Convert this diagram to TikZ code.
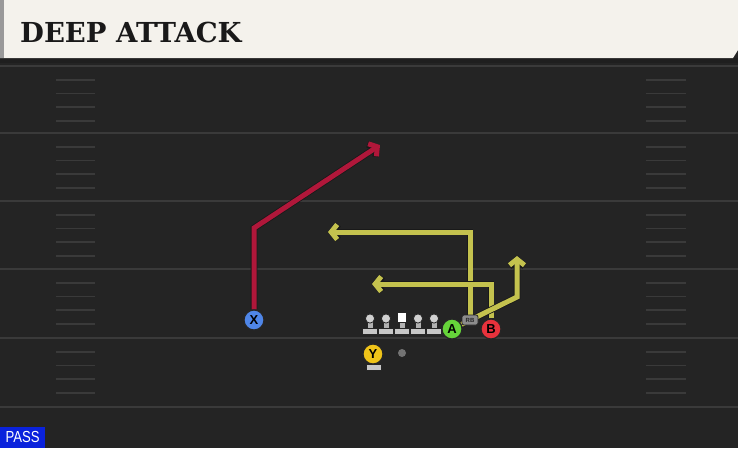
\documentclass[tikz,border=0pt]{standalone}
\usepackage{fontspec}
\usetikzlibrary{arrows.meta}
\newfontfamily\titlefont{DejaVu Serif}
\newfontfamily\labfont{Liberation Sans}
\newfontfamily\passfont[FakeStretch=0.82]{Liberation Sans}
\definecolor{cream}{HTML}{F4F2EC}
\definecolor{fieldgray}{HTML}{242424}
\definecolor{linegray}{HTML}{3A3A3A}
\definecolor{routered}{HTML}{B0173A}
\definecolor{routeyellow}{HTML}{C4C24E}
\definecolor{xblue}{HTML}{4F86E8}
\definecolor{yyellow}{HTML}{F0C419}
\definecolor{agreen}{HTML}{66D43A}
\definecolor{bred}{HTML}{E8323C}
\definecolor{passblue}{HTML}{0A22DC}
\pgfdeclarelayer{field}
\pgfdeclarelayer{routes}
\pgfsetlayers{field,routes,main}
\begin{document}
\begin{tikzpicture}[
		x=1pt, y=-1pt,
		yardline/.style={linegray, line width=2pt},
		hashmark/.style={linegray, line width=1.6pt},
		player/.style={circle, draw=black!85, line width=1.2pt, minimum size=20pt, inner sep=0pt,
			font=\labfont\bfseries\fontsize{13}{13}\selectfont},
		route/.style={line width=5pt, line join=miter,
			-{Straight Barb[length=6pt,width=15pt]},
			preaction={draw=black!90, line width=6.6pt}},
		redroute/.style={route, routered},
		yelroute/.style={route, routeyellow},
		pawn/.style={fill=black!22, draw=black!85, line width=0.8pt},
		rbtag/.style={fill=black!45, draw=black!85, line width=0.8pt, rounded corners=2pt,
			minimum width=16pt, minimum height=10pt, inner sep=0pt,
			font=\labfont\bfseries\fontsize{6}{6}\selectfont, text=black!85},
		lineman/.pic={
				\draw[pawn] (-7.5,-6) rectangle (7.5,0);
				\draw[pawn, fill=black!30] (-3,-13) rectangle (3,-6);
				\draw[pawn, fill=black!18] (0,-15.5) circle (4.6pt);
			},
		snapper/.pic={
				\draw[pawn] (-7.5,-6) rectangle (7.5,0);
				\draw[pawn, fill=black!30] (-3,-13) rectangle (3,-6);
				\draw[draw=black!85, fill=white, line width=0.8pt] (-4.5,-21.5) rectangle (4.5,-12);
			}
	]
	\useasboundingbox (0,0) rectangle (738,448);

	% field
	\begin{pgfonlayer}{field}
		\fill[fieldgray] (0,0) rectangle (738,448);
		\fill[black!88] (0,58) rectangle (738,63);
		\foreach \y in {66,133,201,269,338,407} {
				\draw[yardline] (0,\y) -- (738,\y);
			}
		\foreach \y in {66,133,201,269,338} {
				\foreach \k in {1,...,4} {
						\draw[hashmark] (56,\y+13.7*\k) -- (95,\y+13.7*\k);
						\draw[hashmark] (646,\y+13.7*\k) -- (686,\y+13.7*\k);
					}
			}
		\fill[cream] (0,0) -- (738,0) -- (738,50) -- (733,58) -- (0,58) -- cycle;
		\fill[black!40] (0,0) rectangle (4,58);
		\node[anchor=base west, inner sep=0pt, font=\titlefont\bfseries\fontsize{27.5}{27.5}\selectfont,
			text=black!90] (title) at (20,42) {DEEP ATTACK};
		\node[anchor=south west, fill=passblue, minimum width=45pt, minimum height=21pt, inner sep=0pt,
			text=white, font=\passfont\fontsize{16}{16}\selectfont] (pass) at (0,448) {PASS};
	\end{pgfonlayer}

	% line
	\foreach \x in {370,386,418,434} {
			\pic at (\x,334) {lineman};
		}
	\pic at (402,334) {snapper};

	% backs and receivers
	\node[player, fill=xblue] (X) at (254,320) {X};
	\draw[pawn] (366,364) rectangle (381,370);
	\node[player, fill=yyellow] (Y) at (373,354) {Y};
	\node[player, fill=agreen] (A) at (452,329) {A};
	\node[player, fill=bred] (B) at (491,329) {B};
	\node[rbtag] (RB) at (470,320) {RB};
	\node[circle, fill=black!55, minimum size=8pt, inner sep=0pt] (QB) at (402,353) {};

	\coordinate (xcut) at (254,228);
	\coordinate (xend) at (380,145);
	\coordinate (rbend) at (328,232);
	\coordinate (bend) at (372,284);
	\coordinate (acut) at (517,297);
	\coordinate (aend) at (517,256);

	% routes
	\begin{pgfonlayer}{routes}
		\draw[redroute] (X.north) -- (xcut) -- (xend);
		\draw[yelroute] (RB.north) |- (rbend);
		\draw[yelroute] (B.north) |- (bend);
		\draw[yelroute] (A) -- (acut) -- (aend);
	\end{pgfonlayer}
\end{tikzpicture}
\end{document}
